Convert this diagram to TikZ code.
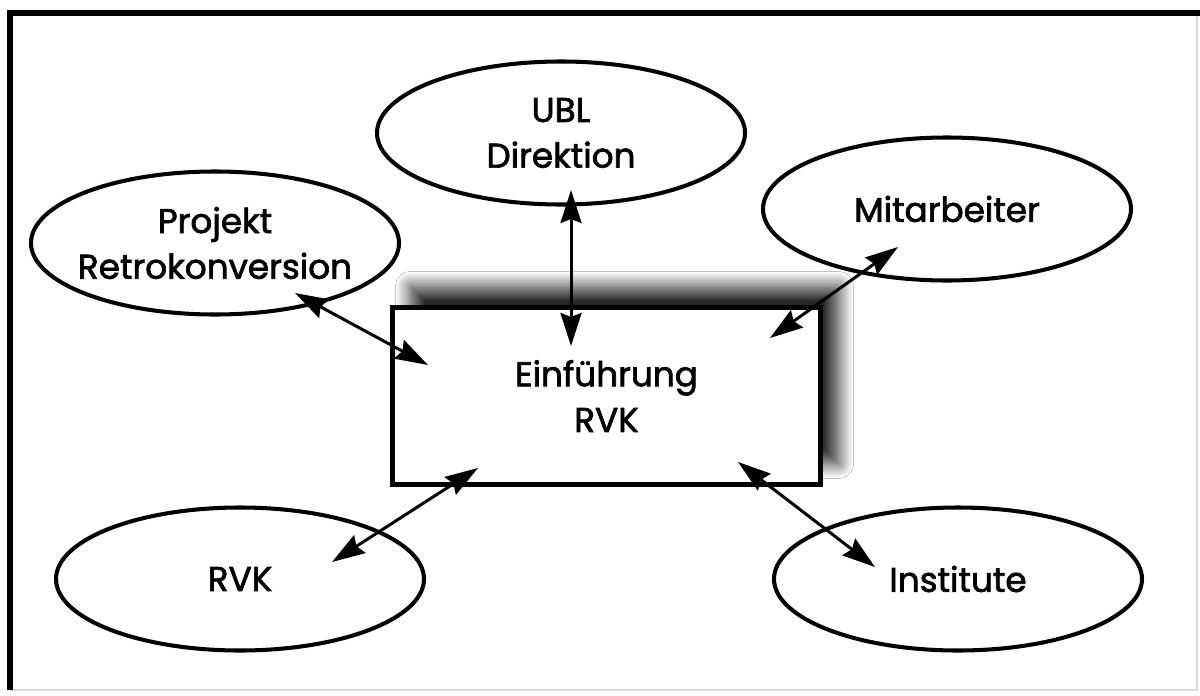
\documentclass[tikz,border=0pt]{standalone}
\usepackage{fontspec}
\setmainfont{Poppins}[UprightFeatures={FakeBold=2}]
\usetikzlibrary{arrows.meta,shadows.blur,shapes.geometric}
\tikzset{
  bubble/.style={draw, line width=2.3pt, ellipse, minimum width=7.36cm, minimum height=2.86cm, align=center, font=\fontsize{19.5}{26}\selectfont},
  mainbox/.style={draw, line width=2.8pt, fill=white, rectangle, minimum width=8.56cm, minimum height=3.54cm, align=center, font=\fontsize{19.5}{26}\selectfont,
    blur shadow={shadow xshift=0.36cm, shadow yshift=0.42cm, shadow blur radius=0.3cm, shadow blur steps=20, shadow opacity=85}},
  link/.style={line width=1.7pt, {Stealth[length=6.6mm, width=4.2mm, inset=0.8mm]}-{Stealth[length=6.6mm, width=4.2mm, inset=0.8mm]}}
}
\begin{document}
\begin{tikzpicture}%
\useasboundingbox (0,0) rectangle (24,13.9);%
\fill[white] (0,0) rectangle (24,13.9);%
\draw[gray!30, line width=0.6pt] (23.94,13.64) -- (23.94,0.1) -- (0.2,0.1);%
\draw[line width=3.4pt] (0.2,0.1) -- (0.2,13.64) -- (24,13.64);%
\node[mainbox] (box) at (12.13, 5.98) {Einführung\\RVK};%
\node[bubble] (ubl) at (11.22, 11.24) {UBL\\Direktion};%
\node[bubble, inner xsep=-0.3cm] (proj) at (4.30, 9.04) {Projekt\\Retrokonversion};%
\node[bubble] (mit) at (18.94, 9.72) {Mitarbeiter};%
\node[bubble] (rvk) at (4.80, 2.32) {RVK};%
\node[bubble] (inst) at (19.16, 2.32) {Institute};%
\coordinate (ublEnd) at (11.42, 10.10);%
\coordinate (boxN) at (11.42, 6.98);%
\coordinate (projEnd) at (5.90, 8.04);%
\coordinate (boxNW) at (8.56, 6.60);%
\coordinate (mitEnd) at (17.96, 8.96);%
\coordinate (boxNE) at (15.40, 7.14);%
\coordinate (rvkEnd) at (6.64, 2.66);%
\coordinate (boxSW) at (9.56, 4.54);%
\coordinate (instEnd) at (17.50, 2.56);%
\coordinate (boxSE) at (14.76, 4.66);%
\draw[link] (ublEnd) -- (boxN);%
\draw[link] (projEnd) -- (boxNW);%
\draw[link] (mitEnd) -- (boxNE);%
\draw[link] (rvkEnd) -- (boxSW);%
\draw[link] (instEnd) -- (boxSE);%
\end{tikzpicture}
\end{document}
